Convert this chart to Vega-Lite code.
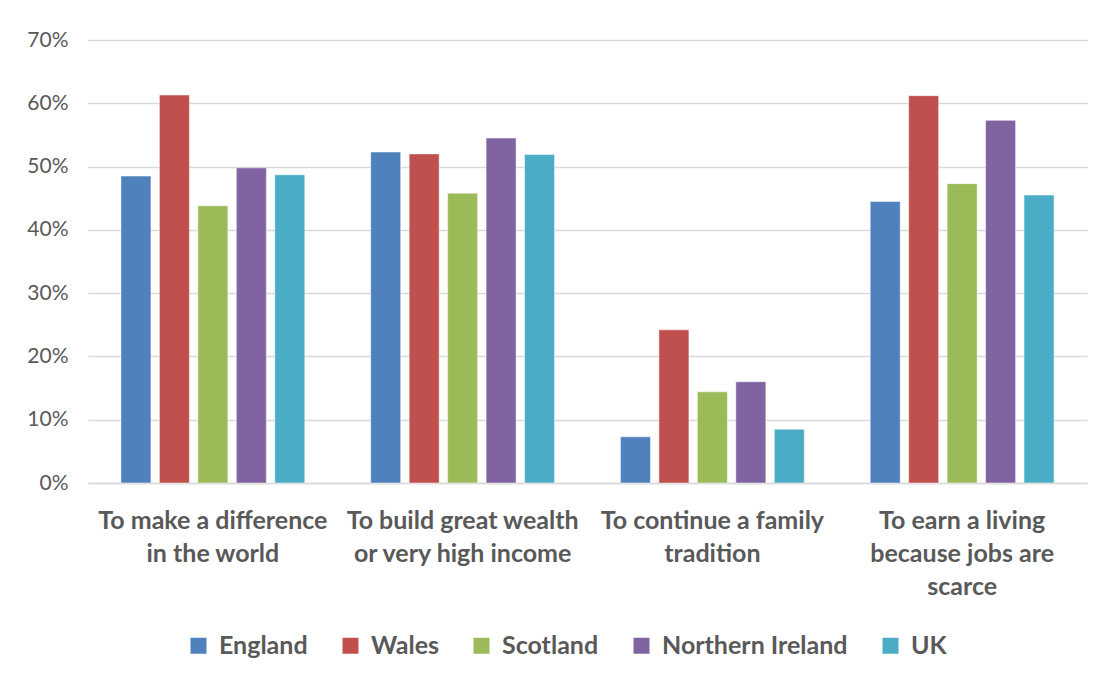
{
  "$schema": "https://vega.github.io/schema/vega-lite/v6.json",
  "width": 999,
  "height": 443,
  "autosize": {"type": "none"},
  "padding": {"left": 88, "top": 40, "right": 16, "bottom": 198},
  "background": "white",
  "config": {
    "font": "Lato",
    "view": {"stroke": null}
  },
  "data": {
    "values": [
      {"motive": "To make a difference|in the world", "country": "England", "value": 0.485},
      {"motive": "To make a difference|in the world", "country": "Wales", "value": 0.613},
      {"motive": "To make a difference|in the world", "country": "Scotland", "value": 0.438},
      {"motive": "To make a difference|in the world", "country": "Northern Ireland", "value": 0.498},
      {"motive": "To make a difference|in the world", "country": "UK", "value": 0.487},
      {"motive": "To build great wealth|or very high income", "country": "England", "value": 0.523},
      {"motive": "To build great wealth|or very high income", "country": "Wales", "value": 0.520},
      {"motive": "To build great wealth|or very high income", "country": "Scotland", "value": 0.458},
      {"motive": "To build great wealth|or very high income", "country": "Northern Ireland", "value": 0.545},
      {"motive": "To build great wealth|or very high income", "country": "UK", "value": 0.519},
      {"motive": "To continue a family|tradition", "country": "England", "value": 0.073},
      {"motive": "To continue a family|tradition", "country": "Wales", "value": 0.242},
      {"motive": "To continue a family|tradition", "country": "Scotland", "value": 0.144},
      {"motive": "To continue a family|tradition", "country": "Northern Ireland", "value": 0.160},
      {"motive": "To continue a family|tradition", "country": "UK", "value": 0.085},
      {"motive": "To earn a living|because jobs are|scarce", "country": "England", "value": 0.445},
      {"motive": "To earn a living|because jobs are|scarce", "country": "Wales", "value": 0.612},
      {"motive": "To earn a living|because jobs are|scarce", "country": "Scotland", "value": 0.473},
      {"motive": "To earn a living|because jobs are|scarce", "country": "Northern Ireland", "value": 0.573},
      {"motive": "To earn a living|because jobs are|scarce", "country": "UK", "value": 0.455}
    ]
  },
  "mark": {"type": "bar", "stroke": "white", "strokeOpacity": 0.6, "strokeWidth": 0.8},
  "encoding": {
    "x": {
      "field": "motive",
      "type": "nominal",
      "sort": null,
      "scale": {"paddingInner": 0.23, "paddingOuter": 0.115},
      "axis": {
        "title": null,
        "labelAngle": 0,
        "labelExpr": "split(datum.label, '|')",
        "labelFont": "Lato",
        "labelFontWeight": "bold",
        "labelFontSize": 25,
        "labelColor": "#595959",
        "labelLineHeight": 33,
        "labelPadding": 25,
        "labelLimit": 300,
        "labelBaseline": "top",
        "ticks": false,
        "domain": true,
        "domainColor": "#d9d9d9",
        "domainWidth": 1.5,
        "grid": false
      }
    },
    "xOffset": {
      "field": "country",
      "type": "nominal",
      "sort": ["England", "Wales", "Scotland", "Northern Ireland", "UK"],
      "scale": {"paddingInner": 0.22, "paddingOuter": 0.11}
    },
    "y": {
      "field": "value",
      "type": "quantitative",
      "scale": {"domain": [0, 0.7]},
      "axis": {
        "title": null,
        "format": ".0%",
        "values": [0, 0.1, 0.2, 0.3, 0.4, 0.5, 0.6, 0.7],
        "labelFont": "Lato",
        "labelFontSize": 21,
        "labelColor": "#595959",
        "labelPadding": 20,
        "ticks": false,
        "domain": false,
        "grid": true,
        "gridColor": "#d9d9d9",
        "gridWidth": 1.5
      }
    },
    "color": {
      "field": "country",
      "type": "nominal",
      "sort": ["England", "Wales", "Scotland", "Northern Ireland", "UK"],
      "scale": {
        "domain": ["England", "Wales", "Scotland", "Northern Ireland", "UK"],
        "range": ["#4f81bd", "#c0504d", "#9bbb59", "#8064a2", "#4bacc6"]
      },
      "legend": {
        "title": null,
        "orient": "none",
        "legendX": 98,
        "legendY": 593,
        "direction": "horizontal",
        "symbolType": "square",
        "symbolSize": 256,
        "symbolStrokeWidth": 0,
        "labelFont": "Lato",
        "labelFontWeight": "bold",
        "labelFontSize": 25,
        "labelColor": "#595959",
        "labelOffset": 8,
        "columnPadding": 30,
        "labelLimit": 300
      }
    }
  }
}
